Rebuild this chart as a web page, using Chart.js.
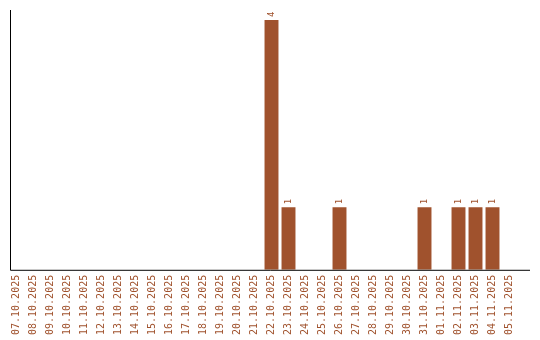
<!DOCTYPE html>
<html>
<head>
<meta charset="utf-8">
<script src="https://cdn.jsdelivr.net/npm/chart.js@4"></script>
<style>
  body { margin: 0; background: #fff; }
  #grafico { display: block; }
</style>
</head>
<body>
<canvas id="grafico" width="540" height="340"></canvas>
<script>
const fechas = [
  "07.10.2025", "08.10.2025", "09.10.2025", "10.10.2025", "11.10.2025",
  "12.10.2025", "13.10.2025", "14.10.2025", "15.10.2025", "16.10.2025",
  "17.10.2025", "18.10.2025", "19.10.2025", "20.10.2025", "21.10.2025",
  "22.10.2025", "23.10.2025", "24.10.2025", "25.10.2025", "26.10.2025",
  "27.10.2025", "28.10.2025", "29.10.2025", "30.10.2025", "31.10.2025",
  "01.11.2025", "02.11.2025", "03.11.2025", "04.11.2025", "05.11.2025"
]
const cantidades = [
  0, 0, 0, 0, 0, 0, 0, 0, 0, 0,
  0, 0, 0, 0, 0, 4, 1, 0, 0, 1,
  0, 0, 0, 0, 1, 0, 1, 1, 1, 0
]

const colorBarra = "#a0522d"

// ejes dibujados a mano, el de abajo sigue un poco mas alla de las barras
const ejes = {
  id: "ejes",
  afterDraw(chart) {
    const { ctx, chartArea } = chart
    ctx.save()
    ctx.strokeStyle = "#000"
    ctx.lineWidth = 1
    ctx.beginPath()
    ctx.moveTo(10.5, 10)
    ctx.lineTo(10.5, chartArea.bottom + 0.5)
    ctx.lineTo(530, chartArea.bottom + 0.5)
    ctx.stroke()
    ctx.restore()
  }
}

// numeros encima de cada barra, girados
const etiquetas = {
  id: "etiquetas",
  afterDatasetsDraw(chart) {
    const { ctx } = chart
    const meta = chart.getDatasetMeta(0)
    ctx.save()
    ctx.fillStyle = colorBarra
    ctx.font = "9px 'DejaVu Sans Mono'"
    ctx.textAlign = "left"
    ctx.textBaseline = "middle"
    meta.data.forEach((barra, i) => {
      if (!cantidades[i]) return
      ctx.save()
      ctx.translate(barra.x, barra.y - 3)
      ctx.rotate(-Math.PI / 2)
      ctx.fillText(cantidades[i], 0, 0)
      ctx.restore()
    })
    ctx.restore()
  }
}

new Chart(document.getElementById("grafico"), {
  type: "bar",
  data: {
    labels: fechas,
    datasets: [{
      data: cantidades,
      backgroundColor: colorBarra,
      borderWidth: 0,
      barPercentage: 0.82,
      categoryPercentage: 1
    }]
  },
  options: {
    responsive: false,
    animation: false,
    layout: { padding: { left: 8, right: 22, top: 20, bottom: 0 } },
    plugins: {
      legend: { display: false },
      tooltip: { enabled: false }
    },
    scales: {
      x: {
        grid: { display: false, drawTicks: false },
        border: { display: false },
        ticks: {
          color: colorBarra,
          font: { family: "'DejaVu Sans Mono'", size: 10 },
          maxRotation: 90,
          minRotation: 90,
          autoSkip: false,
          padding: 5
        }
      },
      y: {
        display: false,
        min: 0,
        max: 4
      }
    }
  },
  plugins: [ejes, etiquetas]
})
</script>
</body>
</html>
